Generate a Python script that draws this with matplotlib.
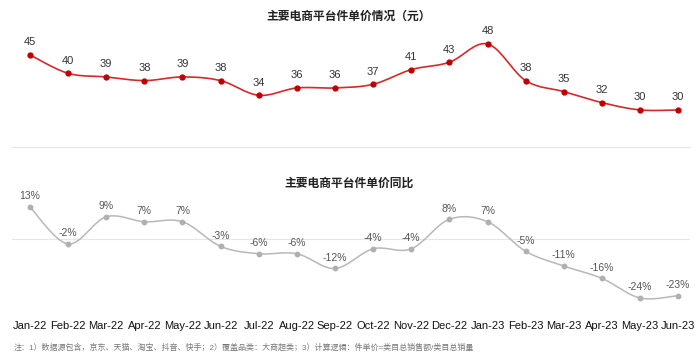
import numpy as np
import matplotlib
matplotlib.use("Agg")
import matplotlib.pyplot as plt

plt.rcParams['font.family'] = ['Liberation Sans', 'Noto Sans CJK SC', 'DejaVu Sans']

# 数据
months = ['Jan-22', 'Feb-22', 'Mar-22', 'Apr-22', 'May-22', 'Jun-22', 'Jul-22', 'Aug-22', 'Sep-22',
          'Oct-22', 'Nov-22', 'Dec-22', 'Jan-23', 'Feb-23', 'Mar-23', 'Apr-23', 'May-23', 'Jun-23']
price = [45, 40, 39, 38, 39, 38, 34, 36, 36, 37, 41, 43, 48, 38, 35, 32, 30, 30]
yoy = [13, -2, 9, 7, 7, -3, -6, -6, -12, -4, -4, 8, 7, -5, -11, -16, -24, -23]


def smooth(x, y, n=20):
    # Catmull-Rom 平滑曲线
    x = np.asarray(x, float)
    y = np.asarray(y, float)
    px = np.concatenate([[x[0]], x, [x[-1]]])
    py = np.concatenate([[y[0]], y, [y[-1]]])
    xs, ys = [], []
    t = np.linspace(0, 1, n)
    for i in range(1, len(px) - 2):
        for p, out in ((px, xs), (py, ys)):
            p0, p1, p2, p3 = p[i - 1], p[i], p[i + 1], p[i + 2]
            out.extend(0.5 * ((2 * p1) + (-p0 + p2) * t + (2 * p0 - 5 * p1 + 4 * p2 - p3) * t ** 2
                              + (-p0 + 3 * p1 - 3 * p2 + p3) * t ** 3))
    return xs, ys


fig = plt.figure(figsize=(6.98, 3.6), dpi=100)
x = np.arange(len(months))
grid_c = '#e6e6e6'

# 上图：件单价
ax1 = fig.add_axes([12 / 698, 1 - 147 / 360, 678 / 698, 117 / 360])
sx, sy = smooth(x, price)
ax1.plot(sx, sy, color='#d42a2a', lw=1.2)
ax1.plot(x, price, 'o', color='#c00000', ms=3.5)
for xi, v in zip(x, price):
    ax1.annotate(str(v), (xi, v), xytext=(0, 5.5), textcoords='offset points',
                 ha='center', va='bottom', fontsize=8, color='#333333')
ax1.set_xlim(-0.47, 17.31)
ax1.set_ylim(19.9, 51.8)
for s in ax1.spines.values():
    s.set_visible(False)
ax1.spines['bottom'].set_visible(True)
ax1.spines['bottom'].set_color(grid_c)
ax1.set_xticks([])
ax1.set_yticks([])

# 下图：同比
ax2 = fig.add_axes([12 / 698, 1 - 315 / 360, 678 / 698, 125 / 360])
ax2.axhline(0, color=grid_c, lw=0.8, zorder=0)
sx, sy = smooth(x, yoy)
ax2.plot(sx, sy, color='#b8b8b8', lw=1.1)
ax2.plot(x, yoy, 'o', color='#b0b0b0', ms=3.2)
for xi, v in zip(x, yoy):
    ax2.annotate(f'{v}%', (xi, v), xytext=(0, 4), textcoords='offset points',
                 ha='center', va='bottom', fontsize=7.5, color='#555555')
ax2.set_xlim(-0.47, 17.31)
ax2.set_ylim(-30.9, 19.9)
for s in ax2.spines.values():
    s.set_visible(False)
ax2.set_yticks([])
ax2.set_xticks(x)
ax2.set_xticklabels(months, fontsize=8, color='#111111')
ax2.tick_params(axis='x', length=0, pad=4)

fig.text(0.5, 1 - 17 / 360, '主要电商平台件单价情况（元）', ha='center', va='center',
         fontsize=8.5, fontweight='bold', color='#222222')
fig.text(0.5, 1 - 184 / 360, '主要电商平台件单价同比', ha='center', va='center',
         fontsize=8.5, fontweight='bold', color='#222222')
fig.text(14 / 698, 1 - 348 / 360,
         '注：1）数据源包含，京东、天猫、淘宝、抖音、快手；2）覆盖品类：大商超类；3）计算逻辑：件单价=类目总销售额/类目总销量',
         ha='left', va='center', fontsize=5.8, color='#777777')

fig.savefig('out.png', dpi=100)
